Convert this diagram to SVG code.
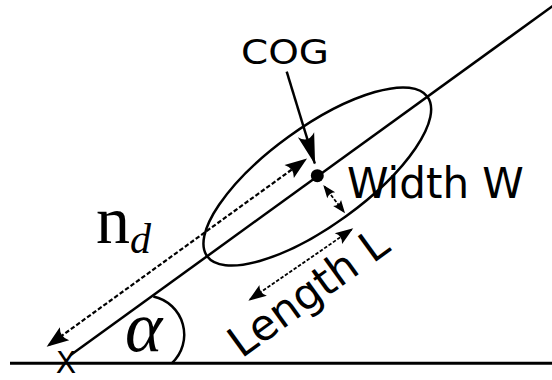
<svg xmlns="http://www.w3.org/2000/svg" width="552" height="380" viewBox="0 0 552 380">
  <style>
    .ln { fill: none; stroke: #000; stroke-width: 2.5; }
    .dash { fill: none; stroke: #000; stroke-width: 2.2; stroke-dasharray: 4.5 2.2; }
    .dash2 { fill: none; stroke: #000; stroke-width: 1.8; stroke-dasharray: 3.5 1.8; }
    .sans { font-family: "DejaVu Sans", "Liberation Sans", sans-serif; fill: #000; }
    .serif { font-family: "Liberation Serif", "DejaVu Serif", serif; fill: #000; }
  </style>
  <defs>
    <marker id="aBig" markerUnits="userSpaceOnUse" orient="auto" refX="-1" refY="0" markerWidth="40" markerHeight="40" overflow="visible">
      <path d="M0,0 L-31,-8.5 Q-22,0 -31,8.5 Z" fill="#000"/>
    </marker>
    <marker id="aN" markerUnits="userSpaceOnUse" orient="auto-start-reverse" refX="-3" refY="0" markerWidth="30" markerHeight="30" overflow="visible">
      <path d="M0,0 L-22,-8 Q-16,0 -22,8 Z" fill="#000"/>
    </marker>
    <marker id="aL" markerUnits="userSpaceOnUse" orient="auto-start-reverse" refX="-2" refY="0" markerWidth="30" markerHeight="30" overflow="visible">
      <path d="M0,0 L-18,-6.5 Q-13,0 -18,6.5 Z" fill="#000"/>
    </marker>
    <marker id="aW" markerUnits="userSpaceOnUse" orient="auto-start-reverse" refX="-2" refY="0" markerWidth="20" markerHeight="20" overflow="visible">
      <path d="M0,0 L-13,-5 Q-9.5,0 -13,5 Z" fill="#000"/>
    </marker>
  </defs>

  <g id="ground">
    <line x1="10" y1="363.3" x2="552" y2="363.3" stroke="#000" stroke-width="3"/>
    <text class="sans" x="66" y="372.5" font-size="30" text-anchor="middle">X</text>
  </g>

  <g id="axis">
    <line class="ln" x1="70.7" y1="355" x2="560" y2="0.7"/>
  </g>

  <g id="body">
    <ellipse class="ln" cx="317.3" cy="176.5" rx="136" ry="49" transform="rotate(-35.9 317.3 176.5)"/>
    <circle cx="317.3" cy="175.7" r="6.5" fill="#000"/>
  </g>

  <g id="angle">
    <path class="ln" d="M153.3,296.5 A39,39 0 0 1 171.7,363.3"/>
    <text class="serif" x="125" y="351" font-size="71" font-style="italic">α</text>
  </g>

  <g id="labels">
    <text class="sans" x="241" y="63.5" font-size="33" textLength="88" lengthAdjust="spacingAndGlyphs">COG</text>
    <text class="sans" x="347" y="198" font-size="42">Width W</text>
    <text class="sans" x="241.5" y="359" font-size="43" transform="rotate(-35.9 241.5 359)">Length L</text>
    <text class="serif" x="96" y="243.3" font-size="68">n<tspan font-size="42" font-style="italic" y="252.5">d</tspan></text>
  </g>

  <g id="connectors">
    <line class="ln" x1="286.7" y1="71.7" x2="314.8" y2="163.5" marker-end="url(#aBig)"/>
    <line class="dash" x1="49.1" y1="344.9" x2="304.6" y2="160.3" marker-start="url(#aN)" marker-end="url(#aN)"/>
    <line class="dash2" x1="250" y1="299.5" x2="351.6" y2="229.5" marker-start="url(#aL)" marker-end="url(#aL)"/>
    <line class="dash2" x1="324.5" y1="186.6" x2="343.8" y2="211.7" marker-start="url(#aW)" marker-end="url(#aW)"/>
  </g>
</svg>
